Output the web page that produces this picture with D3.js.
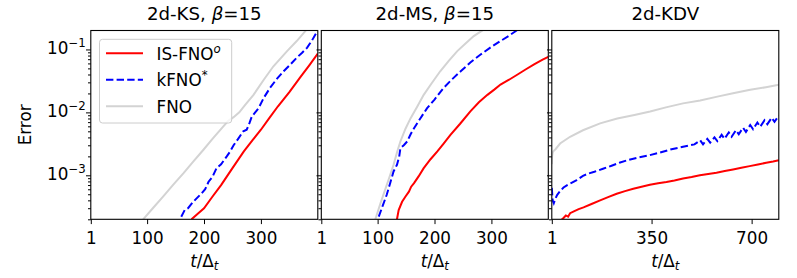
<!DOCTYPE html>
<html><head><meta charset="utf-8">
<script src="https://cdn.jsdelivr.net/npm/d3@7"></script>
<style>
body{margin:0;background:#fff;}
svg{display:block;font-family:"DejaVu Sans",sans-serif;}
</style></head>
<body>
<svg id="c" width="797" height="278"></svg>
<script>
// ---------- data ----------
const titles = ["2d-KS", "2d-MS", "2d-KDV"];
const betaVals = ["15", "15", null];
const xDomains = [[1, 400], [1, 400], [1, 795]];
const xTicks12 = [1, 100, 200, 300];
const xTicks3 = [1, 350, 700];
const yDomain = [2e-4, 0.2];
const yMajor = [1e-3, 1e-2, 1e-1];
const yMajorLabels = ["\u22123", "\u22122", "\u22121"];
const seriesNames = ["IS-FNO", "kFNO", "FNO"];
const seriesSup = ["o", "*", ""];

const ks_is = [[178,2.0e-4],[190,2.5e-4],[200,3.0e-4],[215,4.6e-4],[230,7.0e-4],[250,1.3e-3],[270,2.4e-3],[285,3.6e-3],[300,5.3e-3],[315,8.2e-3],[330,1.25e-2],[350,2.1e-2],[370,3.7e-2],[385,5.6e-2],[400,8.6e-2]];
const ks_k = [[160,2.2e-4],[166,2.8e-4],[172,3.0e-4],[180,3.7e-4],[187,4.3e-4],[196,5.2e-4],[202,6.0e-4],[208,7.9e-4],[215,9.5e-4],[222,1.3e-3],[230,1.5e-3],[240,2.0e-3],[246,2.4e-3],[252,3.0e-3],[260,3.8e-3],[269,5.0e-3],[275,5.3e-3],[280,6.8e-3],[284,8.6e-3],[290,1.0e-2],[296,1.17e-2],[305,1.7e-2],[316,2.45e-2],[328,3.4e-2],[340,4.5e-2],[352,5.8e-2],[363,7.4e-2],[372,8.8e-2],[381,0.106],[390,0.14],[396,0.174],[400,0.2]];
const ks_fno = [[93,2.0e-4],[110,3.0e-4],[128,4.6e-4],[146,7.1e-4],[164,1.08e-3],[181,1.65e-3],[199,2.55e-3],[216,3.9e-3],[234,6.0e-3],[243,7.4e-3],[252,8.4e-3],[262,1.0e-2],[272,1.3e-2],[287,1.9e-2],[305,3.3e-2],[322,5.4e-2],[346,9.4e-2],[363,0.136],[378,0.196],[390,0.26]];

const ms_is = [[134,2.0e-4],[137,2.8e-4],[143,3.8e-4],[149,4.6e-4],[155,5.5e-4],[159,6.6e-4],[164,7.5e-4],[172,9.6e-4],[181,1.3e-3],[193,1.8e-3],[205,2.4e-3],[216,3.2e-3],[228,4.4e-3],[245,6.6e-3],[263,1.04e-2],[278,1.45e-2],[293,1.9e-2],[305,2.3e-2],[316,2.77e-2],[331,3.3e-2],[346,4.0e-2],[360,4.8e-2],[375,5.8e-2],[390,6.9e-2],[400,7.6e-2]];
const ms_k = [[102,2.2e-4],[109,3.3e-4],[116,4.9e-4],[122,7.5e-4],[128,1.15e-3],[134,1.47e-3],[138,2.0e-3],[140,2.7e-3],[146,3.0e-3],[152,3.45e-3],[158,4.5e-3],[164,5.6e-3],[175,8.0e-3],[187,1.17e-2],[200,1.6e-2],[216,2.45e-2],[230,3.3e-2],[246,4.5e-2],[263,6.2e-2],[281,8.3e-2],[298,0.107],[316,0.136],[330,0.163],[343,0.196],[357,0.25]];
const ms_fno = [[96,2.0e-4],[105,3.6e-4],[114,6.2e-4],[121,9.5e-4],[128,1.47e-3],[134,2.3e-3],[140,3.45e-3],[149,5.5e-3],[158,8.1e-3],[170,1.25e-2],[181,1.9e-2],[195,2.9e-2],[210,4.5e-2],[225,6.6e-2],[240,9.4e-2],[255,0.125],[269,0.163],[287,0.209],[305,0.26]];

const kdv_is = [[36,2.0e-4],[42,2.1e-4],[50,2.3e-4],[58,2.2e-4],[65,2.5e-4],[80,2.7e-4],[95,2.9e-4],[112,3.1e-4],[140,3.5e-4],[170,4.0e-4],[200,4.55e-4],[228,5.1e-4],[257,5.6e-4],[286,6.1e-4],[315,6.6e-4],[344,7.1e-4],[373,7.5e-4],[402,7.85e-4],[430,8.3e-4],[460,8.9e-4],[490,9.4e-4],[519,1.0e-3],[548,1.05e-3],[577,1.1e-3],[606,1.17e-3],[635,1.24e-3],[664,1.32e-3],[693,1.4e-3],[722,1.49e-3],[751,1.58e-3],[775,1.66e-3],[795,1.74e-3]];
const kdv_k = [[1,6.3e-4],[4,4.0e-4],[8,3.6e-4],[14,4.3e-4],[20,4.9e-4],[30,5.6e-4],[42,6.4e-4],[55,7.0e-4],[70,7.6e-4],[88,8.4e-4],[110,9.8e-4],[130,1.07e-3],[150,1.14e-3],[180,1.27e-3],[210,1.42e-3],[240,1.60e-3],[270,1.76e-3],[300,1.90e-3],[340,2.07e-3],[380,2.30e-3],[420,2.60e-3],[460,2.84e-3],[500,3.1e-3],[520,3.6e-3],[530,3.1e-3],[545,3.8e-3],[555,3.3e-3],[570,4.0e-3],[580,3.5e-3],[595,4.4e-3],[605,3.8e-3],[620,4.8e-3],[630,4.1e-3],[645,5.2e-3],[655,4.5e-3],[670,5.7e-3],[680,4.9e-3],[695,6.3e-3],[705,5.4e-3],[720,6.9e-3],[730,5.9e-3],[745,7.5e-3],[755,6.5e-3],[770,8.2e-3],[780,7.1e-3],[795,8.9e-3]];
const kdv_fno = [[1,1.5e-3],[2,2.0e-3],[4,2.3e-3],[8,2.45e-3],[14,2.6e-3],[30,3.2e-3],[65,4.1e-3],[110,5.2e-3],[170,6.7e-3],[230,8.0e-3],[290,9.1e-3],[345,1.03e-2],[400,1.2e-2],[460,1.39e-2],[520,1.54e-2],[580,1.78e-2],[635,2.01e-2],[695,2.28e-2],[750,2.51e-2],[795,2.74e-2]];

const panelData = [
  {is: ks_is, k: ks_k, fno: ks_fno},
  {is: ms_is, k: ms_k, fno: ms_fno},
  {is: kdv_is, k: kdv_k, fno: kdv_fno}
];

// ---------- layout ----------
const svg = d3.select("#c");
const lefts = [90.8, 321.3, 551.8];
const pw = 227;
const plotTop = 30.5, plotBottom = 219.3;
const FS = 16.8;
const colors = {is: "#ff0000", k: "#0000ff", fno: "#d3d3d3"};

const y = d3.scaleLog().domain(yDomain).range([plotBottom, plotTop]);
const yMinor = [];
[1e-4, 1e-3, 1e-2].forEach(d => { for (let m = 2; m <= 9; m++) { const v = m * d; if (v >= yDomain[0] && v < 0.2) yMinor.push(v); } });

panelData.forEach((pd, i) => {
  const x = d3.scaleLinear().domain(xDomains[i]).range([lefts[i], lefts[i] + pw]);
  const g = svg.append("g");
  const cid = "clip" + i;
  svg.append("clipPath").attr("id", cid).append("rect")
    .attr("x", lefts[i]).attr("y", plotTop).attr("width", pw).attr("height", plotBottom - plotTop);

  const line = d3.line().x(d => x(d[0])).y(d => y(d[1]));
  const lg = g.append("g").attr("clip-path", `url(#${cid})`);
  lg.append("path").datum(pd.fno).attr("d", line).attr("fill", "none")
    .attr("stroke", colors.fno).attr("stroke-width", 2);
  lg.append("path").datum(pd.k).attr("d", line).attr("fill", "none")
    .attr("stroke", colors.k).attr("stroke-width", 2).attr("stroke-dasharray", "7.4,3.2");
  lg.append("path").datum(pd.is).attr("d", line).attr("fill", "none")
    .attr("stroke", colors.is).attr("stroke-width", 2);

  // y axis major/minor ticks
  const ay = g.append("g").attr("transform", `translate(${lefts[i]},0)`);
  ay.call(d3.axisLeft(y).tickValues(yMajor).tickSize(4.8).tickFormat(""));
  ay.append("g").call(d3.axisLeft(y).tickValues(yMinor).tickSize(2.8).tickFormat(""));
  ay.selectAll(".domain").remove();
  ay.selectAll("line").attr("stroke", "#000").attr("stroke-width", 1);

  // x axis
  const ax = g.append("g").attr("transform", `translate(0,${plotBottom})`);
  const tv = i < 2 ? xTicks12 : xTicks3;
  ax.call(d3.axisBottom(x).tickValues(tv).tickSize(4.8).tickPadding(7.6).tickFormat(d3.format("d")));
  ax.selectAll(".domain").remove();
  ax.selectAll("line").attr("stroke", "#000").attr("stroke-width", 1);
  ax.selectAll("text").attr("font-size", FS).attr("font-family", "DejaVu Sans").attr("fill", "#000");

  // frame
  g.append("rect").attr("x", lefts[i]).attr("y", plotTop).attr("width", pw).attr("height", plotBottom - plotTop)
    .attr("fill", "none").attr("stroke", "#000").attr("stroke-width", 1.1);

  // y tick labels (first panel only)
  if (i === 0) {
    yMajor.forEach((v, j) => {
      const t = g.append("text").attr("x", lefts[i] - 5).attr("y", y(v) + 5)
        .attr("text-anchor", "end").attr("font-size", FS);
      t.append("tspan").text("10");
      t.append("tspan").attr("dy", -7).attr("font-size", FS * 0.7).text(yMajorLabels[j]);
    });
    svg.append("text").attr("transform", `translate(31,${(plotTop + plotBottom) / 2}) rotate(-90)`)
      .attr("text-anchor", "middle").attr("font-size", FS).text("Error");
  }

  // title
  const cx = lefts[i] + pw / 2;
  const tt = svg.append("text").attr("x", cx).attr("y", 19.5).attr("text-anchor", "middle").attr("font-size", 18.2);
  if (betaVals[i]) {
    tt.append("tspan").text(titles[i] + ", ");
    tt.append("tspan").attr("font-style", "italic").text("\u03b2");
    tt.append("tspan").text("=" + betaVals[i]);
  } else {
    tt.text(titles[i]);
  }

  // x label
  const xl = svg.append("text").attr("x", cx).attr("y", 266.5).attr("text-anchor", "middle").attr("font-size", FS);
  xl.append("tspan").attr("font-style", "italic").text("t");
  xl.append("tspan").text("/\u0394");
  xl.append("tspan").attr("font-style", "italic").attr("font-size", FS * 0.7).attr("dy", 3.5).text("t");
});

// ---------- legend ----------
const leg = svg.append("g");
leg.append("rect").attr("x", 99.5).attr("y", 39.3).attr("width", 132.2).attr("height", 83.7)
  .attr("rx", 3).attr("fill", "#fff").attr("fill-opacity", 0.8).attr("stroke", "#cccccc").attr("stroke-width", 1);
const legKeys = ["is", "k", "fno"];
legKeys.forEach((k, j) => {
  const yy = 53.3 + j * 26.5;
  leg.append("line").attr("x1", 106).attr("x2", 143).attr("y1", yy).attr("y2", yy)
    .attr("stroke", colors[k]).attr("stroke-width", 2)
    .attr("stroke-dasharray", k === "k" ? "7.4,3.2" : null);
  const t = leg.append("text").attr("x", 156.5).attr("y", yy + 6.3).attr("font-size", FS);
  t.append("tspan").text(seriesNames[j]);
  if (seriesSup[j]) {
    t.append("tspan").attr("dy", -7).attr("font-size", FS * 0.7)
      .attr("font-style", seriesSup[j] === "o" ? "italic" : null).text(seriesSup[j]);
  }
});
</script>
</body></html>
